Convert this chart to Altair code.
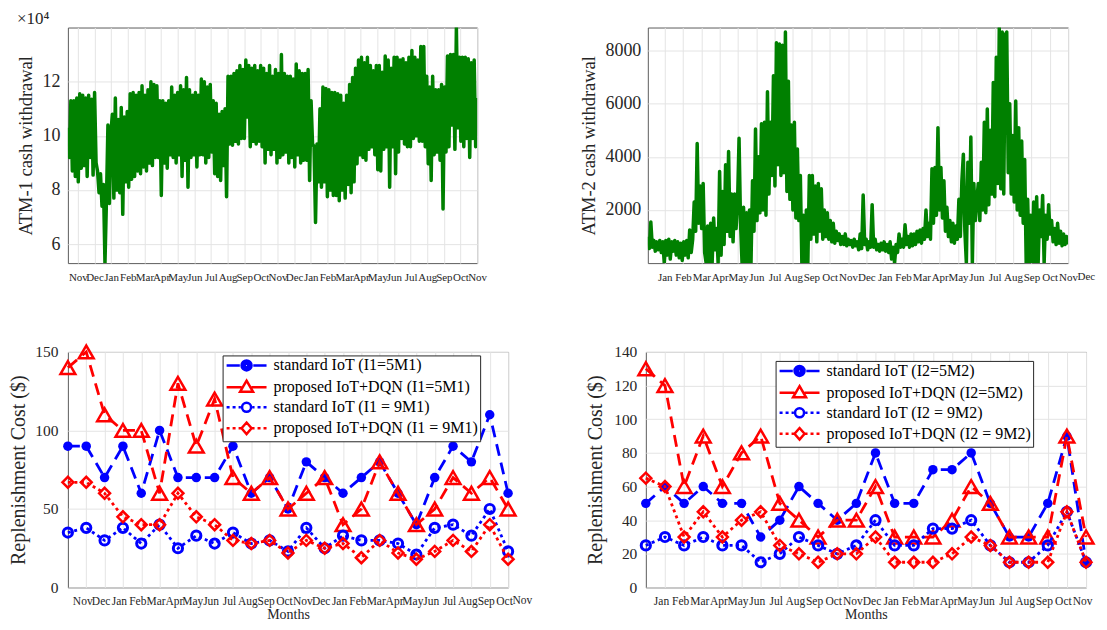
import json
import altair as alt
import numpy as np
import pandas as pd

FONT = "Liberation Serif"
TXT = "#262626"
GRID = "#e4e4e4"
FRAME = "#5c5c5c"
GREEN = "#008000"
BLUE = "#0000ff"
RED = "#ff0000"

# ---------------- top-left: ATM-1 cash withdrawal (units of 1e4) ----------------
ATM1_X1E4 = [
    10.3, 9.2, 11.3, 8.7, 11.3, 8.5, 11.4, 8.3, 11.55, 8.8,
    11.5, 8.9, 11.4, 8.5, 11.5, 9.2, 11.35, 8.55, 11.6, 9.0,
    8.7, 7.9, 8.6, 7.4, 8.2, 5.3, 7.6, 10.4, 7.5, 10.1,
    10.8, 7.7, 11.4, 8.0, 10.6, 7.9, 11.05, 7.1, 10.7, 8.3,
    10.9, 8.1, 11.55, 8.4, 11.6, 8.5, 11.5, 8.7, 11.6, 8.6,
    11.85, 8.85, 11.5, 8.7, 11.7, 9.0, 12.0, 8.9, 11.9, 9.2,
    11.85, 9.2, 11.3, 7.8, 11.3, 9.0, 11.2, 8.8, 11.3, 9.3,
    11.8, 9.2, 11.5, 9.0, 11.6, 9.3, 11.85, 8.5, 11.7, 9.1,
    12.15, 8.1, 11.7, 9.2, 11.5, 9.3, 11.6, 8.85, 11.5, 9.3,
    12.1, 9.3, 12.0, 9.0, 11.8, 9.2, 11.9, 9.4, 11.3, 8.6,
    11.2, 8.5, 10.8, 8.35, 10.9, 8.9, 11.0, 7.75, 12.2, 9.7,
    12.2, 9.65, 12.3, 9.8, 12.4, 9.7, 12.6, 9.9, 12.45, 9.9,
    12.8, 10.7, 12.6, 9.6, 12.5, 9.8, 12.6, 9.7, 12.4, 9.8,
    12.6, 9.6, 12.5, 9.0, 12.3, 9.5, 12.6, 9.3, 12.2, 9.5,
    12.45, 9.0, 12.3, 9.2, 13.0, 9.3, 12.3, 9.4, 12.2, 9.0,
    12.2, 9.2, 12.1, 8.85, 12.65, 9.3, 12.4, 9.0, 12.3, 9.1,
    12.3, 9.1, 12.45, 8.35, 11.3, 9.7, 9.6, 6.8, 9.7, 8.3,
    11.0, 8.1, 11.8, 8.3, 11.75, 7.75, 11.7, 8.0, 11.6, 7.8,
    11.6, 7.8, 11.55, 7.6, 11.5, 8.0, 11.2, 7.7, 11.5, 8.2,
    11.9, 7.9, 12.15, 8.3, 12.5, 8.97, 12.8, 9.3, 12.9, 9.2,
    12.7, 9.1, 12.9, 9.5, 12.6, 9.6, 12.4, 9.3, 12.6, 8.75,
    12.6, 8.7, 12.35, 9.5, 12.95, 9.6, 12.8, 8.1, 12.5, 9.6,
    12.9, 8.6, 12.9, 9.4, 12.8, 9.9, 12.85, 9.7, 12.7, 9.6,
    12.9, 9.6, 13.15, 9.9, 12.9, 10.0, 12.8, 9.8, 13.3, 9.8,
    13.3, 9.6, 12.2, 8.97, 11.8, 8.35, 12.2, 9.3, 11.7, 9.4,
    11.7, 9.1, 11.9, 7.3, 11.8, 9.4, 12.95, 9.6, 13.0, 10.4,
    13.0, 9.5, 14.0, 10.3, 12.9, 9.8, 12.9, 9.6, 12.9, 9.9,
    12.85, 9.2, 12.7, 9.9, 12.8, 9.6, 11.4,
]
ATM1_MONTHS = ["Nov", "Dec", "Jan", "Feb", "Mar", "Apr", "May", "Jun", "Jul", "Aug", "Sep", "Oct",
               "Nov", "Dec", "Jan", "Feb", "Mar", "Apr", "May", "Jun", "Jul", "Aug", "Sep", "Oct", "Nov"]
ATM1_YTICKS = [6, 8, 10, 12]

# ---------------- top-right: ATM-2 cash withdrawal ----------------
ATM2 = [
    1000, 550, 1550, 600, 850, 450, 800, 500, 850, 400,
    800, 0, 850, 300, 900, 150, 800, 450, 850, 300,
    800, 200, 750, 100, 800, 300, 850, 200, 1250, 400,
    900, 2300, 1200, 4500, 1500, 2900, 1300, 3000, 400, 0,
    1400, 0, 1500, 0, 1700, 500, 1300, 0, 3450, 300,
    2700, 700, 3700, 1200, 4200, 1000, 2600, 800, 2600, 1300,
    2300, 4700, 1500, 0, 2100, 0, 1900, 0, 2000, 0,
    3100, 1200, 5050, 1600, 4000, 1900, 5250, 2000, 5300, 1800,
    6450, 2600, 5300, 3300, 7050, 2900, 8300, 3700, 8250, 3300,
    8200, 3400, 8700, 2700, 6850, 2400, 5200, 2000, 5300, 1700,
    4300, 1600, 3300, 0, 1800, 0, 2000, 0, 3300, 900,
    3300, 1100, 2900, 800, 3000, 1200, 2800, 900, 2000, 1000,
    1900, 900, 1600, 800, 1500, 750, 1200, 850, 1100, 700,
    1000, 700, 1100, 650, 900, 700, 850, 600, 900, 650,
    800, 500, 1100, 550, 2560, 700, 900, 500, 800, 600,
    2200, 600, 900, 500, 700, 450, 750, 500, 800, 450,
    700, 400, 800, 150, 600, 0, 700, 400, 1100, 600,
    900, 600, 1440, 700, 1000, 600, 1100, 650, 1100, 700,
    1200, 800, 1250, 750, 1300, 900, 2000, 1000, 1500, 900,
    3550, 1500, 3600, 1800, 5100, 2000, 3600, 1700, 3100, 1200,
    2100, 1000, 1600, 800, 1500, 750, 1400, 900, 2400, 1000,
    3100, 4100, 1200, 0, 3800, 1500, 4750, 0, 3000, 1600,
    2400, 3000, 1600, 3800, 2000, 5300, 1900, 5800, 2200, 5000,
    2600, 6800, 2500, 7750, 3000, 8850, 2800, 8700, 2600, 8600,
    8700, 3400, 6000, 2600, 4800, 2300, 6100, 2000, 5100, 1800,
    4600, 1500, 3900, 0, 2400, 0, 1800, 0, 2300, 0,
    2500, 0, 2000, 1000, 2550, 0, 1800, 900, 2200, 1100,
    1600, 800, 1300, 700, 1500, 750, 1200, 650, 1100, 700,
    1000, 700,
]
ATM2_MONTHS = ["Jan", "Feb", "Mar", "Apr", "May", "Jun", "Jul", "Aug", "Sep", "Oct", "Nov", "Dec",
               "Jan", "Feb", "Mar", "Apr", "May", "Jun", "Jul", "Aug", "Sep", "Oct", "Nov", "Dec"]
ATM2_YTICKS = [2000, 4000, 6000, 8000]

# ---------------- bottom-left: replenishment cost, ATM-1 ----------------
BL_MONTHS = ["Nov", "Dec", "Jan", "Feb", "Mar", "Apr", "May", "Jun", "Jul", "Aug", "Sep", "Oct",
             "Nov", "Dec", "Jan", "Feb", "Mar", "Apr", "May", "Jun", "Jul", "Aug", "Sep", "Oct", "Nov"]
BL_NAMES = ["standard IoT (I1=5M1)", "proposed IoT+DQN (I1=5M1)",
            "standard IoT (I1 = 9M1)", "proposed IoT+DQN (I1 = 9M1)"]
BL_S1 = [90, 90, 70, 90, 60, 100, 70, 70, 70, 90, 60, 70, 50, 80, 70, 60, 70, 80, 60, 40, 70, 90, 80, 110, 60]
BL_S2 = [140, 150, 110, 100, 100, 60, 130, 90, 120, 70, 60, 70, 50, 60, 70, 40, 50, 80, 60, 40, 50, 70, 60, 70, 50]
BL_S3 = [35, 38, 30, 38, 28, 40, 25, 33, 28, 35, 28, 30, 23, 38, 25, 33, 30, 30, 28, 21, 38, 40, 33, 50, 23]
BL_S4 = [67, 67, 60, 45, 40, 40, 60, 45, 40, 30, 28, 30, 22, 30, 25, 28, 19, 30, 22, 18, 23, 30, 23, 40, 18]
BL_YTICKS = [0, 50, 100, 150]

# ---------------- bottom-right: replenishment cost, ATM-2 ----------------
BR_MONTHS = ["Jan", "Feb", "Mar", "Apr", "May", "Jun", "Jul", "Aug", "Sep", "Oct", "Nov", "Dec",
             "Jan", "Feb", "Mar", "Apr", "May", "Jun", "Jul", "Aug", "Sep", "Oct", "Nov", "Dec"]
BR_NAMES = ["standard IoT (I2=5M2)", "proposed IoT+DQN (I2=5M2)",
            "standard IoT (I2 = 9M2)", "proposed IoT+DQN (I2 = 9M2)"]
BR_S1 = [50, 60, 50, 60, 50, 50, 30, 40, 60, 50, 40, 50, 80, 50, 50, 70, 70, 80, 50, 30, 30, 50, 90, 15]
BR_S2 = [130, 120, 60, 90, 60, 80, 90, 50, 40, 30, 40, 40, 60, 30, 30, 30, 40, 60, 50, 30, 30, 30, 90, 30]
BR_S3 = [25, 30, 25, 30, 25, 25, 15, 20, 30, 25, 20, 25, 40, 25, 25, 35, 35, 40, 25, 15, 15, 25, 45, 15]
BR_S4 = [65, 60, 30, 45, 30, 40, 45, 25, 20, 15, 20, 20, 30, 15, 15, 15, 20, 30, 25, 15, 15, 15, 45, 15]
BR_YTICKS = [0, 20, 40, 60, 80, 100, 120, 140]

# ---------------- styles ----------------
SERIES_COLORS = [BLUE, RED, BLUE, RED]
SERIES_DASH = [[12, 7], [12, 7], [3, 3.5], [3, 3.5]]
SERIES_MARK = [
    dict(shape="circle", filled=True, size=90, strokeWidth=1),
    dict(shape="triangle-up", filled=False, size=220, strokeWidth=2.5),
    dict(shape="circle", filled=False, size=85, strokeWidth=3),
    dict(shape="diamond", filled=False, size=120, strokeWidth=2.5),
]


def circ(r):
    return f"M{r},0A{r},{r},0,1,1,{-r},0A{r},{r},0,1,1,{r},0Z"


DASH_SEG = "M-4,0L-1.35,0M1.35,0L4,0"
DASH_SEG_T = "M-4,0L-1.0,0M1.0,0L4,0"
DOT_SEG = "M-4,0L-3.4,0M-2.8,0L-2.2,0M-1.6,0L-1.15,0M1.15,0L1.6,0M2.2,0L2.8,0M3.4,0L4,0"
LEGEND_PATHS = [
    DASH_SEG + circ(1) + circ(0.55) + circ(0.15),
    DASH_SEG_T + "M0,-1.35L1.3,0.9L-1.3,0.9Z",
    DOT_SEG + circ(0.9),
    DOT_SEG + "M0,-1.15L1.0,0L0,1.15L-1.0,0Z",
]


def month_axis(months, d0, d1, size, pad, offset=0, title=None):
    vals = [i + 1 for i in range(len(months)) if d0 - 1e-9 <= i + 1 <= d1 + 1e-9]
    kw = dict(values=vals, labelExpr=json.dumps(months) + "[datum.value - 1]",
              grid=True, gridColor=GRID, gridWidth=1, ticks=False, tickSize=0, domain=False,
              labelFont=FONT, labelFontSize=size, labelColor=TXT, labelPadding=pad,
              labelAngle=0, labelFlush=False, labelOverlap=False, labelOffset=offset)
    if title:
        kw.update(title=title, titleFont=FONT, titleFontSize=14, titleFontWeight="normal",
                  titleColor=TXT, titlePadding=1)
    else:
        kw.update(title=None)
    return alt.Axis(**kw)


def value_axis(ticks, fmt, size, pad, title, tsize, tpad):
    return alt.Axis(values=ticks, format=fmt, grid=True, gridColor=GRID, gridWidth=1, ticks=False,
                    tickSize=0, domain=False, labelFont=FONT, labelFontSize=size, labelColor=TXT,
                    labelPadding=pad, labelFlush=False, title=title, titleFont=FONT,
                    titleFontSize=tsize, titleFontWeight="normal", titleColor=TXT, titlePadding=tpad)


def overflow_text(months, d0, d1, xaxis, height, size, pad, offset):
    rows = [{"pos": i + 1, "lab": m} for i, m in enumerate(months) if i + 1 > d1 + 1e-9]
    if not rows:
        return None
    df = pd.DataFrame(rows)
    return alt.Chart(df).mark_text(font=FONT, fontSize=size, color=TXT, baseline="top",
                                   align="center", dx=offset, dy=pad).encode(
        x=alt.X("pos:Q", scale=alt.Scale(domain=[d0, d1], nice=False, zero=False), axis=xaxis),
        y=alt.value(height),
        text="lab:N",
    )


def ts_panel(values, months, d0, d1, w, h, ydom, yticks, yfmt, ytitle, lpad, tpad):
    df = pd.DataFrame({"t": np.linspace(d0, d1, len(values)), "v": values})
    xaxis = month_axis(months, d0, d1, 11, 8)
    line = alt.Chart(df).mark_line(color=GREEN, strokeWidth=3.5, strokeJoin="round", clip=True).encode(
        x=alt.X("t:Q", scale=alt.Scale(domain=[d0, d1], nice=False, zero=False), axis=xaxis),
        y=alt.Y("v:Q", scale=alt.Scale(domain=ydom, nice=False, zero=False),
                axis=value_axis(yticks, yfmt, 18, lpad, ytitle, 18.5, tpad)),
    )
    layers = [line]
    ov = overflow_text(months, d0, d1, xaxis, h, 11, 8, 0)
    if ov is not None:
        layers.append(ov)
    return alt.layer(*layers).properties(width=w, height=h)


def cost_panel(names, series, months, w, h, ydom, yticks, lx, ly, lpad, tpad):
    n = len(series[0])
    d0, d1 = 0, n - 1
    xs = alt.Scale(domain=[d0, d1], nice=False, zero=False)
    ys = alt.Scale(domain=ydom, nice=False, zero=False)
    xaxis = month_axis(months, d0, d1, 11.5, 8, -4, "Months")
    yaxis = value_axis(yticks, "d", 15.5, lpad, "Replenishment Cost ($)", 20, tpad)
    layers = []
    frames = []
    for k, (name, vals) in enumerate(zip(names, series)):
        df = pd.DataFrame({"idx": list(range(n)), "cost": vals, "series": name})
        frames.append(df)
        enc = dict(x=alt.X("idx:Q", scale=xs, axis=xaxis), y=alt.Y("cost:Q", scale=ys, axis=yaxis))
        layers.append(alt.Chart(df).mark_line(color=SERIES_COLORS[k], strokeDash=SERIES_DASH[k],
                                              strokeWidth=2.8).encode(**enc))
        m = SERIES_MARK[k]
        layers.append(alt.Chart(df).mark_point(shape=m["shape"], filled=m["filled"], size=m["size"],
                                               strokeWidth=m["strokeWidth"], color=SERIES_COLORS[k],
                                               opacity=1).encode(**enc))
    leg = alt.Legend(title=None, orient="none", legendX=lx, legendY=ly, fillColor="white",
                     strokeColor=TXT, padding=2, rowPadding=0, symbolSize=100,
                     symbolStrokeWidth=2.5, symbolOffset=14, labelOffset=19, labelFont=FONT,
                     labelFontSize=16, labelColor="#000000", labelLimit=500)
    all_df = pd.concat(frames, ignore_index=True)
    legend_layer = alt.Chart(all_df).transform_filter("false").mark_point(
        filled=False, opacity=1, strokeWidth=2.5).encode(
        x=alt.X("idx:Q", scale=xs, axis=xaxis),
        y=alt.Y("cost:Q", scale=ys, axis=yaxis),
        color=alt.Color("series:N", scale=alt.Scale(domain=names, range=SERIES_COLORS), legend=leg),
        shape=alt.Shape("series:N", scale=alt.Scale(domain=names, range=LEGEND_PATHS), legend=leg),
    )
    layers.append(legend_layer)
    ov = overflow_text(months, d0, d1, xaxis, h, 11.5, 8, -4)
    if ov is not None:
        layers.append(ov)
    return alt.layer(*layers).properties(width=w, height=h)


tl = ts_panel(ATM1_X1E4, ATM1_MONTHS, 0.4, 25.0, 410, 236, [5.3, 14.0], ATM1_YTICKS, "d",
              "ATM-1 cash withdrawal", 8, 6).properties(
    title=alt.Title("×10⁴", anchor="start", font=FONT, fontSize=17, fontWeight="normal",
                    color=TXT, offset=0))
tr = ts_panel(ATM2, ATM2_MONTHS, 0.08, 23.0, 421, 236, [0, 8870], ATM2_YTICKS, "d",
              "ATM-2 cash withdrawal", 7, 6)
bl = cost_panel(BL_NAMES, [BL_S1, BL_S2, BL_S3, BL_S4], BL_MONTHS, 441, 236, [0, 150], BL_YTICKS,
                155, 3.5, 10, 6)
br = cost_panel(BR_NAMES, [BR_S1, BR_S2, BR_S3, BR_S4], BR_MONTHS[:23], 441, 236, [0, 140], BR_YTICKS,
                130, 9, 9, 8)

top_row = alt.hconcat(tl, tr, spacing=92)
bottom_row = alt.hconcat(bl, br, spacing=52).resolve_scale(
    color="independent", shape="independent").resolve_legend(color="independent", shape="independent")

chart = alt.vconcat(top_row, bottom_row, spacing=57).resolve_scale(
    color="independent", shape="independent").resolve_legend(
    color="independent", shape="independent").properties(padding=0).configure(
    background="white").configure_view(stroke=FRAME, strokeWidth=1)

chart.save("out.html", embed_options={"renderer": "svg", "actions": False})
